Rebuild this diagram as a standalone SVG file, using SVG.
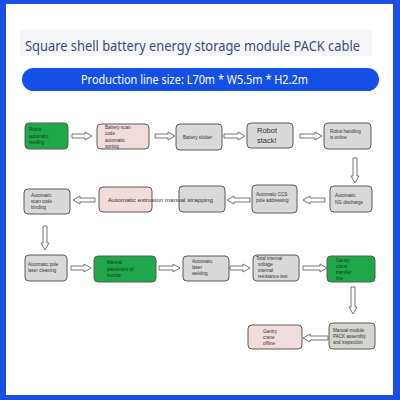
<svg xmlns="http://www.w3.org/2000/svg" width="400" height="400" viewBox="0 0 400 400">
<style>
.box{stroke:#5a5a5a;stroke-width:1;}
.g{fill:#d9d9d9;}
.p{fill:#f2dcdc;}
.gr{fill:#1fa84a;}
.t{font-family:"Liberation Sans",Arial,sans-serif;font-size:4.6px;fill:#333;}
.tg{font-family:"Liberation Sans",Arial,sans-serif;font-size:4.6px;fill:#0b3d18;}
.arr{fill:#fff;stroke:#666;stroke-width:0.9;}
</style>
<rect x="0" y="0" width="400" height="400" fill="#fff"/>
<rect x="0" y="0" width="400" height="4" fill="#1a4fe6"/>
<rect x="0" y="0" width="6" height="400" fill="#1a4fe6"/>
<rect x="393" y="0" width="7" height="400" fill="#1a4fe6"/>
<rect x="0" y="395" width="400" height="5" fill="#1a4fe6"/>
<rect x="20" y="30" width="352" height="26" fill="#f6f6f8"/>
<text x="25" y="51" font-family="'Noto Sans',sans-serif" font-size="13.5" fill="#3a4a80" textLength="335" lengthAdjust="spacingAndGlyphs">Square shell battery energy storage module PACK cable</text>
<rect x="22" y="68" width="357" height="23" rx="11.5" fill="#1450e6"/>
<text x="81" y="84" font-family="'Noto Sans',sans-serif" font-size="12.5" fill="#fff" textLength="227" lengthAdjust="spacingAndGlyphs">Production line size: L70m * W5.5m * H2.2m</text>

<g id="connectors">
<path class="arr" d="M72,134 H85 V132 L92,136 L85,140 V138 H72 Z"/>
<path class="arr" d="M155,134 H168 V132 L175,136 L168,140 V138 H155 Z"/>
<path class="arr" d="M224,134 H238 V132 L245,136 L238,140 V138 H224 Z"/>
<path class="arr" d="M300,134 H315 V132 L322,136 L315,140 V138 H300 Z"/>
<path class="arr" d="M353,158 V176 H351 L355,183 L359,176 H357 V158 Z"/>
<path class="arr" d="M325,198 H310 V196 L303,200 L310,204 V202 H325 Z"/>
<path class="arr" d="M250,198 H234 V196 L227,200 L234,204 V202 H250 Z"/>
<path class="arr" d="M95,198 H80 V196 L73,200 L80,204 V202 H95 Z"/>
<path class="arr" d="M43,226 V243 H41 L45,250 L49,243 H47 V226 Z"/>
<path class="arr" d="M71,266 H84 V264 L91,268 L84,272 V270 H71 Z"/>
<path class="arr" d="M159,266 H173 V264 L180,268 L173,272 V270 H159 Z"/>
<path class="arr" d="M230,266 H243 V264 L250,268 L243,272 V270 H230 Z"/>
<path class="arr" d="M303,266 H320 V264 L327,268 L320,272 V270 H303 Z"/>
<path class="arr" d="M351,287 V307 H349 L353,314 L357,307 H355 V287 Z"/>
<path class="arr" d="M328,336 H310 V334 L303,338 L310,342 V340 H328 Z"/>
</g>

<g id="n1"><rect class="box gr" x="25" y="123" width="43" height="26" rx="4"/>
<text class="tg"><tspan x="29" y="131">Robot</tspan><tspan x="29" y="137.5">automatic</tspan><tspan x="29" y="144">feeding</tspan></text></g>
<g id="n2"><rect class="box p" x="97" y="124" width="52" height="25" rx="4"/>
<text class="t"><tspan x="105" y="128.5">Battery scan</tspan><tspan x="105" y="135">code</tspan><tspan x="105" y="141.5">automatic</tspan><tspan x="105" y="148">sorting</tspan></text></g>
<g id="n3"><rect class="box g" x="176" y="124" width="46" height="26" rx="4"/>
<text class="t" x="183" y="138.5">Battery sticker</text></g>
<g id="n4"><rect class="box g" x="247" y="123" width="46" height="25" rx="4"/>
<text font-family="'Liberation Sans',Arial,sans-serif" font-size="7.5" fill="#333"><tspan x="257" y="133">Robot</tspan><tspan x="257" y="143">stack!</tspan></text></g>
<g id="n5"><rect class="box g" x="324" y="123" width="47" height="26" rx="4"/>
<text class="t"><tspan x="330" y="133">Robot handling</tspan><tspan x="330" y="139">is online</tspan></text></g>

<g id="n6"><rect class="box g" x="330" y="186" width="42" height="26" rx="4"/>
<text class="t"><tspan x="335" y="197">Automatic</tspan><tspan x="335" y="203.5">NG discharge</tspan></text></g>
<g id="n7"><rect class="box g" x="252" y="185" width="45" height="28" rx="4"/>
<text class="t"><tspan x="256" y="196">Automatic CCS</tspan><tspan x="256" y="202">pole addressing</tspan></text></g>
<g id="n8"><rect class="box p" x="99" y="187" width="53" height="25" rx="4"/>
<rect class="box g" x="179" y="186" width="46" height="26" rx="4"/>
<text font-family="'Liberation Sans',Arial,sans-serif" font-size="5.6" fill="#333" x="108" y="201.5" textLength="105" lengthAdjust="spacingAndGlyphs">Automatic extrusion manual strapping</text></g>
<g id="n9"><rect class="box g" x="24" y="189" width="46" height="25" rx="4"/>
<text class="t"><tspan x="31" y="196.5">Automatic</tspan><tspan x="31" y="202.5">scan code</tspan><tspan x="31" y="208.5">binding</tspan></text></g>

<g id="n10"><rect class="box g" x="25" y="255" width="42" height="26" rx="4"/>
<text class="t"><tspan x="28" y="266">Automatic pole</tspan><tspan x="28" y="272">laser cleaning</tspan></text></g>
<g id="n11"><rect class="box gr" x="94" y="256" width="62" height="26" rx="4"/>
<text class="tg"><tspan x="107" y="264">Manual</tspan><tspan x="107" y="270.5">placement of</tspan><tspan x="107" y="277">busbar</tspan></text></g>
<g id="n12"><rect class="box g" x="183" y="256" width="46" height="25" rx="4"/>
<text class="t"><tspan x="192" y="263">Automatic</tspan><tspan x="192" y="269">laser</tspan><tspan x="192" y="275">welding</tspan></text></g>
<g id="n13"><rect class="box g" x="253" y="255" width="46" height="26" rx="4"/>
<text class="t"><tspan x="256" y="259.5">Total internal</tspan><tspan x="258" y="265.5">voltage</tspan><tspan x="258" y="271.5">internal</tspan><tspan x="258" y="277.5">resistance test</tspan></text></g>
<g id="n14"><rect class="box gr" x="327" y="256" width="48" height="26" rx="4"/>
<text class="tg"><tspan x="336" y="261.5">Gantry</tspan><tspan x="336" y="267.5">crane</tspan><tspan x="336" y="273.5">transfer</tspan><tspan x="336" y="279.5">line</tspan></text></g>

<g id="n15"><rect class="box" fill="#d2d6ce" x="329" y="323" width="46" height="26" rx="4"/>
<text class="t"><tspan x="333" y="331.5">Manual module</tspan><tspan x="333" y="337.5">PACK assembly</tspan><tspan x="333" y="343.5">and inspection</tspan></text></g>
<g id="n16"><rect class="box p" x="248" y="325" width="54" height="24" rx="4"/>
<text class="t"><tspan x="263" y="333">Gantry</tspan><tspan x="263" y="339">crane</tspan><tspan x="263" y="345">offline</tspan></text></g>
</svg>
